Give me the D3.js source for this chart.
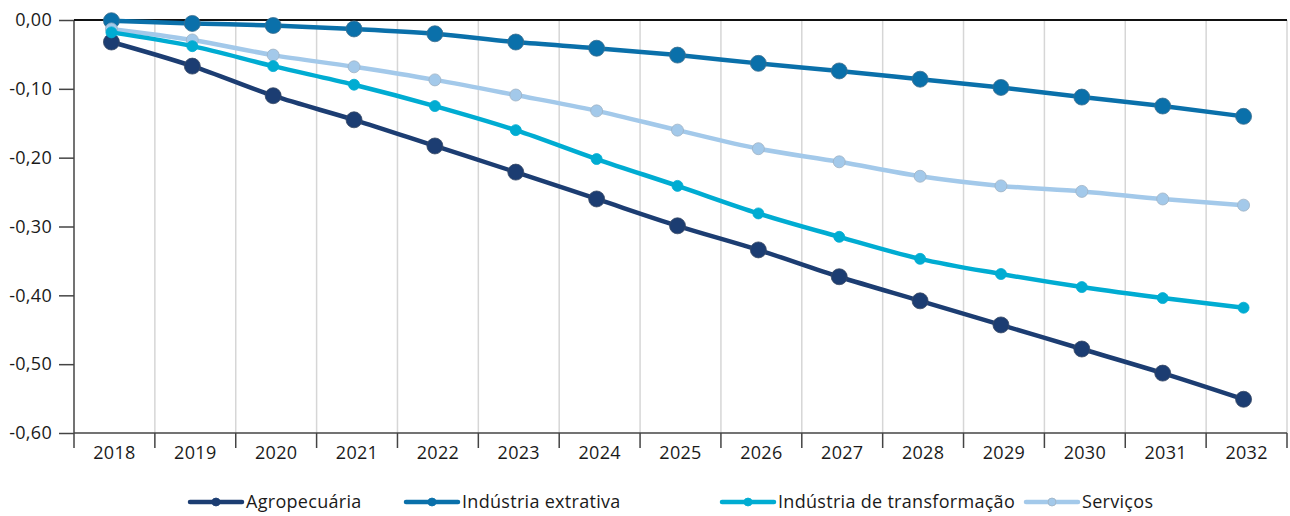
<!DOCTYPE html>
<html><head><meta charset="utf-8">
<script src="https://cdn.jsdelivr.net/npm/d3@7"></script>
<style>
html,body{margin:0;padding:0;background:#fff;}
text{font-family:"Open Sans","Noto Sans",sans-serif;fill:#1a1a1a;}
</style></head>
<body><svg id="c" width="1290" height="516"></svg>
<script>
const years = ["2018","2019","2020","2021","2022","2023","2024","2025","2026","2027","2028","2029","2030","2031","2032"];
const agropecuaria = [-0.032,-0.067,-0.110,-0.145,-0.183,-0.221,-0.260,-0.299,-0.334,-0.373,-0.408,-0.443,-0.478,-0.513,-0.551];
const extrativa = [-0.001,-0.005,-0.008,-0.013,-0.020,-0.032,-0.041,-0.051,-0.063,-0.074,-0.086,-0.098,-0.112,-0.125,-0.140];
const transformacao = [-0.018,-0.038,-0.067,-0.094,-0.125,-0.160,-0.202,-0.241,-0.281,-0.315,-0.347,-0.369,-0.388,-0.404,-0.418];
const servicos = [-0.013,-0.029,-0.051,-0.068,-0.087,-0.109,-0.132,-0.160,-0.187,-0.206,-0.227,-0.241,-0.249,-0.260,-0.269];
const yTicks = [0,-0.1,-0.2,-0.3,-0.4,-0.5,-0.6];
const seriesNames = ["Agropecuária","Indústria extrativa","Indústria de transformação","Serviços"];

const series = [
  {name:seriesNames[0], values:agropecuaria, color:"#1c3d72", r:8, stroke:"#3a4a66"},
  {name:seriesNames[1], values:extrativa, color:"#0a70aa", r:8, stroke:"#3d6f8e"},
  {name:seriesNames[3], values:servicos, color:"#a3c9ea", r:6, stroke:"#9fb2c4"},
  {name:seriesNames[2], values:transformacao, color:"#00acd2", r:5.5, stroke:"#00acd2"}
];

const svg = d3.select("#c");
const L=74, R=1287, T=20, B=433;
const FS = 18;
const x = d3.scaleBand().domain(years).range([L,R]);
const y = d3.scaleLinear().domain([0,-0.6]).range([T,B]);
const cx = d => x(d) + x.bandwidth()/2 - 3;

// vertical gridlines at band boundaries
const bounds = years.slice(1).map(d=>x(d)).concat([R]);
svg.append("g").selectAll("line").data(bounds).join("line")
  .attr("x1",d=>d).attr("x2",d=>d).attr("y1",T).attr("y2",B)
  .attr("stroke","#d6d6d6").attr("stroke-width",1.5);

// bottom axis
const xAxis = d3.axisBottom(x).tickSize(0).tickPadding(13);
const gx = svg.append("g").attr("transform",`translate(0,${B})`).call(xAxis);
gx.select(".domain").remove();
gx.selectAll("text").attr("font-size",FS).attr("font-family","Open Sans").attr("fill","#1a1a1a").attr("letter-spacing","0.3px");
svg.append("g").selectAll("line").data([L].concat(bounds)).join("line")
  .attr("x1",d=>d).attr("x2",d=>d).attr("y1",B).attr("y2",B+15)
  .attr("stroke","#444").attr("stroke-width",1.5);
svg.append("line").attr("x1",L).attr("x2",R).attr("y1",B).attr("y2",B).attr("stroke","#444").attr("stroke-width",1.5);

// left axis
const yAxis = d3.axisLeft(y).tickValues(yTicks).tickSize(15).tickPadding(7)
  .tickFormat(d => d3.format(".2f")(d).replace(".",",").replace("−","-"));
const gy = svg.append("g").attr("transform",`translate(${L},0)`).call(yAxis);
gy.select(".domain").remove();
gy.selectAll(".tick line").attr("stroke","#444").attr("stroke-width",1.5);
gy.selectAll("text").attr("font-size",FS).attr("font-family","Open Sans").attr("fill","#1a1a1a").attr("letter-spacing","0.3px");
svg.append("line").attr("x1",L).attr("x2",L).attr("y1",T).attr("y2",B).attr("stroke","#444").attr("stroke-width",1.5);
// zero line (top)
svg.append("line").attr("x1",L).attr("x2",R).attr("y1",y(0)).attr("y2",y(0)).attr("stroke","#111").attr("stroke-width",2);

const line = d3.line().x((d,i)=>cx(years[i])).y(d=>y(d)).curve(d3.curveMonotoneX);
series.forEach(s=>{
  const g = svg.append("g");
  g.append("path").attr("d",line(s.values)).attr("fill","none").attr("stroke",s.color).attr("stroke-width",4.5);
  g.selectAll("circle").data(s.values).join("circle")
    .attr("cx",(d,i)=>cx(years[i])).attr("cy",d=>y(d)).attr("r",s.r)
    .attr("fill",s.color).attr("stroke",s.stroke).attr("stroke-width",0.8);
});

// legend
const legendItems = [
  {name:seriesNames[0], color:"#1c3d72", x0:190},
  {name:seriesNames[1], color:"#0a70aa", x0:406},
  {name:seriesNames[2], color:"#00acd2", x0:722},
  {name:seriesNames[3], color:"#a3c9ea", x0:1026}
];
const ly = 502;
const lg = svg.append("g").selectAll("g").data(legendItems).join("g").attr("transform",d=>`translate(${d.x0},${ly})`);
lg.append("line").attr("x1",0).attr("x2",52).attr("y1",0).attr("y2",0).attr("stroke",d=>d.color).attr("stroke-width",4.5).attr("stroke-linecap","round");
lg.append("circle").attr("cx",26).attr("cy",0).attr("r",4).attr("fill",d=>d.color).attr("stroke",d=>d.name==="Serviços"?"#9fb2c4":d.color).attr("stroke-width",0.8);
lg.append("text").attr("x",56).attr("y",0).attr("dy","0.35em").attr("font-size",FS).attr("letter-spacing","0.3px").text(d=>d.name);
</script></body></html>
